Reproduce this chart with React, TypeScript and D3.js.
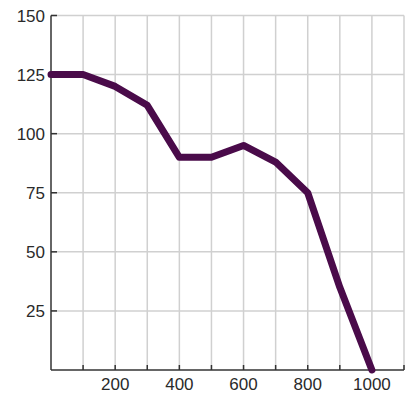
import React from "react";
import * as d3 from "d3";

const xValues = [0, 100, 200, 300, 400, 500, 600, 700, 800, 900, 1000];
const yValues = [125, 125, 120, 112, 90, 90, 95, 88, 75, 35, 0];
const xGrid = [100, 200, 300, 400, 500, 600, 700, 800, 900, 1000, 1100];
const xLabels = [200, 400, 600, 800, 1000];
const yTicks = [25, 50, 75, 100, 125, 150];

export default function App() {
  const W = 409, H = 397;
  const left = 51, right = 404, top = 15.5, bottom = 370;
  const x = d3.scaleLinear().domain([0, 1100]).range([left, right]);
  const y = d3.scaleLinear().domain([0, 150]).range([bottom, top]);
  const pts = xValues.map((v, i) => [v, yValues[i]] as [number, number]);
  const line = d3.line<[number, number]>().x(d => x(d[0])).y(d => y(d[1]));
  const font = "Liberation Sans, Arial, sans-serif";
  return (
    <svg width={W} height={H} style={{ position: "absolute", left: 0, top: 0 }}>
      <rect width={W} height={H} fill="#fff" />
      {xGrid.map(v => (
        <line key={"gx" + v} x1={x(v)} x2={x(v)} y1={top} y2={bottom} stroke="#d0d0d0" strokeWidth={1.5} />
      ))}
      {yTicks.map(v => (
        <line key={"gy" + v} x1={left} x2={right} y1={y(v)} y2={y(v)} stroke="#d0d0d0" strokeWidth={1.5} />
      ))}
      <line x1={left} x2={left} y1={top} y2={bottom} stroke="#333" strokeWidth={1.5} />
      <line x1={left} x2={right} y1={bottom} y2={bottom} stroke="#333" strokeWidth={1.5} />
      {yTicks.map(v => (
        <line key={"ty" + v} x1={left} x2={left + 6} y1={y(v)} y2={y(v)} stroke="#333" strokeWidth={1.5} />
      ))}
      {xGrid.map(v => (
        <line key={"tx" + v} x1={x(v)} x2={x(v)} y1={bottom} y2={bottom - 5} stroke="#333" strokeWidth={1.5} />
      ))}
      {yTicks.map(v => (
        <text key={"ly" + v} x={45} y={y(v)} dy="0.36em" textAnchor="end" fontFamily={font} fontSize={17} fill="#2a2a2a">{v}</text>
      ))}
      {xLabels.map(v => (
        <text key={"lx" + v} x={x(v)} y={390} textAnchor="middle" fontFamily={font} fontSize={17} fill="#2a2a2a">{v}</text>
      ))}
      <path d={line(pts) || ""} fill="none" stroke="#4a0b4a" strokeWidth={7} strokeLinejoin="round" strokeLinecap="round" />
    </svg>
  );
}
